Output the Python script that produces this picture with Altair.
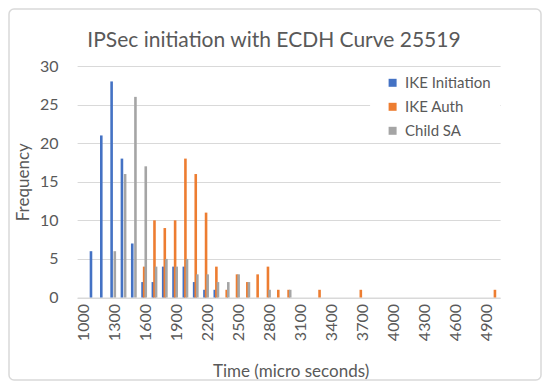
import altair as alt
import pandas as pd

bins = list(range(1000, 5001, 100))
series = ["IKE Initiation", "IKE Auth", "Child SA"]
colors = ["#4472C4", "#ED7D31", "#A5A5A5"]
title_text = "IPSec initiation with ECDH Curve 25519"

#            1000 1100 1200 1300 1400 1500 1600 1700 1800 1900 2000 2100 2200 2300 2400 2500 2600 2700 2800 2900 3000
ike_init = [0, 6, 21, 28, 18, 7, 2, 2, 4, 4, 4, 2, 1, 1, 0, 0, 0, 0, 0, 0, 0,
            0, 0, 0, 0, 0, 0, 0, 0, 0, 0, 0, 0, 0, 0, 0, 0, 0, 0, 0, 0]
ike_auth = [0, 0, 0, 0, 0, 0, 4, 10, 9, 10, 18, 16, 11, 4, 1, 3, 2, 3, 4, 1, 1,
            0, 0, 1, 0, 0, 0, 1, 0, 0, 0, 0, 0, 0, 0, 0, 0, 0, 0, 0, 1]
child_sa = [0, 0, 0, 6, 16, 26, 17, 4, 5, 4, 5, 3, 3, 2, 2, 3, 2, 0, 1, 0, 1,
            0, 0, 0, 0, 0, 0, 0, 0, 0, 0, 0, 0, 0, 0, 0, 0, 0, 0, 0, 0]

x_labels = bins[::3]
y_ticks = [0, 5, 10, 15, 20, 25, 30]

rows = []
for name, vals in zip(series, [ike_init, ike_auth, child_sa]):
    for b, v in zip(bins, vals):
        rows.append({"bin": b, "series": name, "count": v})
df = pd.DataFrame(rows)

W, H = 423, 231.5
PL, PT = 69.1, 58
PR = 534 - PL - W
PB = 373 - PT - H
TXT = "#595959"

bars = alt.Chart(df).mark_bar(width=2.6).encode(
    x=alt.X(
        "bin:O",
        sort=bins,
        scale=alt.Scale(domain=bins, paddingInner=0.535, paddingOuter=0.2675),
        axis=alt.Axis(
            values=x_labels,
            labelAngle=-90,
            labelFontSize=16,
            labelColor=TXT,
            labelPadding=6,
            labelOffset=2,
            ticks=False,
            domainColor="#D9D9D9",
            domainWidth=1,
            grid=False,
            title="Time (micro seconds)",
            titleFontSize=17,
            titleFontWeight="normal",
            titleColor=TXT,
            titleX=W / 2 + 2,
            titleY=78.5,
            titleBaseline="alphabetic",
            titleAlign="center",
        ),
    ),
    xOffset=alt.XOffset(
        "series:N", sort=series,
        scale=alt.Scale(domain=series, paddingInner=0, paddingOuter=0),
    ),
    y=alt.Y(
        "count:Q",
        scale=alt.Scale(domain=[0, 30], nice=False),
        axis=alt.Axis(
            values=y_ticks,
            labelFontSize=16,
            labelColor=TXT,
            labelPadding=19,
            ticks=False,
            domain=False,
            gridColor="#D9D9D9",
            gridWidth=1,
            title="Frequency",
            titleFontSize=17,
            titleFontWeight="normal",
            titleColor=TXT,
            titleAngle=-90,
            titleX=-54,
            titleY=H / 2,
            titleAlign="center",
            titleBaseline="middle",
        ),
    ),
    color=alt.Color(
        "series:N", sort=series,
        scale=alt.Scale(domain=series, range=colors),
        legend=alt.Legend(
            title=None,
            orient="none",
            legendX=308,
            legendY=9.3,
            padding=0,
            symbolType="square",
            symbolSize=64,
            symbolStrokeWidth=0,
            labelFontSize=15,
            labelColor=TXT,
            labelOffset=5,
            rowPadding=8,
        ),
    ),
)

one = pd.DataFrame({"k": [0]})
legend_bg = alt.Chart(one).mark_rect(color="white").encode(
    x=alt.value(293), x2=alt.value(W), y=alt.value(8), y2=alt.value(72)
)
border = alt.Chart(one).mark_rect(
    fillOpacity=0, stroke="#D9D9D9", strokeWidth=1.5, cornerRadius=5
).encode(
    x=alt.value(-PL + 1), x2=alt.value(W + PR - 1),
    y=alt.value(-PT + 1), y2=alt.value(H + PB - 1),
)
title = alt.Chart(pd.DataFrame({"t": [title_text]})).mark_text(
    fontSize=21, color=TXT, align="center", baseline="alphabetic"
).encode(
    text="t:N", x=alt.value(196.9), y=alt.value(-19.3)
)

chart = alt.layer(legend_bg, bars, title, border).properties(
    width=W,
    height=H,
    autosize=alt.AutoSizeParams(type="none"),
    padding={"left": PL, "top": PT, "right": PR, "bottom": PB},
).configure(font="Lato").configure_view(stroke=None)

chart.save("out.html", embed_options={"renderer": "svg", "actions": False})
